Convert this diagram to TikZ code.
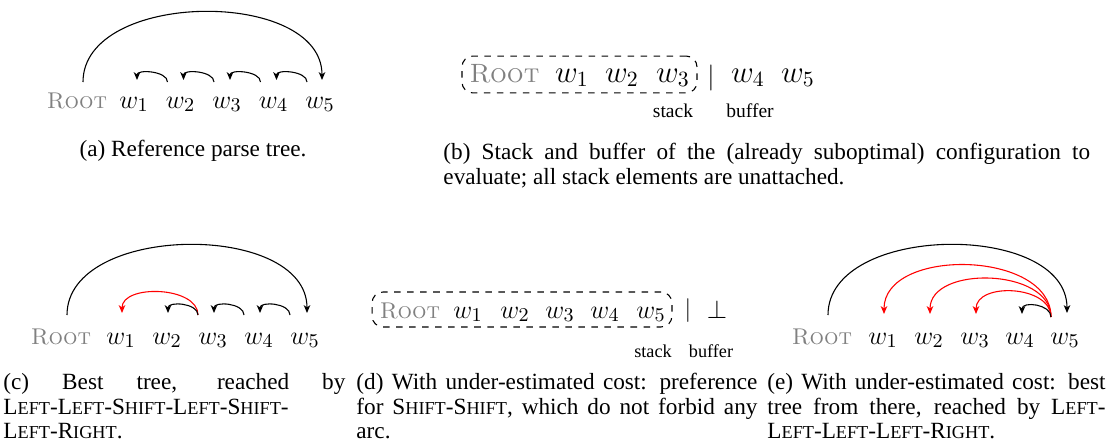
\documentclass[tikz,border=0pt]{standalone}
\usepackage{fontspec}
\newfontfamily\capfont{Liberation Serif}
\usetikzlibrary{arrows.meta,calc}
\newcommand\FSC[2]{#1{\fontsize{8.4}{9}\selectfont #2}}
\hbadness=10000 \hfuzz=20pt
\tikzset{
  word/.style={inner sep=0pt, anchor=base, font=\fontsize{12.5}{14}\selectfont},
  bigword/.style={inner sep=0pt, anchor=base, font=\fontsize{14}{16}\selectfont},
  rootw/.style={inner sep=0pt, anchor=base, text=gray, font=\fontsize{10.5}{12}\selectfont},
  bigroot/.style={inner sep=0pt, anchor=base, text=gray, font=\fontsize{12.2}{14}\selectfont},
  arc/.style={line width=0.5pt, -{Stealth[length=3.6pt,width=3pt,inset=1pt]}},
  redarc/.style={arc, red},
  stackbox/.style={draw, dashed, rounded corners=5pt, line width=0.5pt, inner sep=0pt},
  lbl/.style={inner sep=0pt, anchor=base, font=\capfont\fontsize{9}{10}\selectfont},
  slbl/.style={inner sep=0pt, anchor=base, font=\capfont\fontsize{8.4}{10}\selectfont},
  captext/.style={inner sep=0pt, anchor=north west, align=justify, font=\capfont\fontsize{10.7}{11.3}\selectfont},
}
\begin{document}
\begin{tikzpicture}[x=0.4608pt, y=-0.4608pt]
\useasboundingbox (0,0) rectangle (1107,445);

% ---------- (a)
\node[rootw] (a0) at (77,108) {\textsc{Root}};
\node[word] (a1) at (134,108) {$w_1$};
\node[word] (a2) at (180.5,108) {$w_2$};
\node[word] (a3) at (227,108) {$w_3$};
\node[word] (a4) at (273.5,108) {$w_4$};
\node[word] (a5) at (320,108) {$w_5$};
\draw[arc] ($(a0.base)+(6,-26)$) .. controls +(0,-92) and +(0,-92) .. ($(a5.base)+(2,-28)$);
\draw[arc] ($(a2.base)+(-13,-26)$) .. controls +(0,-11) and +(0,-11) .. ($(a1.base)+(3,-28)$);
\draw[arc] ($(a3.base)+(-13,-26)$) .. controls +(0,-11) and +(0,-11) .. ($(a2.base)+(3,-28)$);
\draw[arc] ($(a4.base)+(-13,-26)$) .. controls +(0,-11) and +(0,-11) .. ($(a3.base)+(3,-28)$);
\draw[arc] ($(a5.base)+(-13,-26)$) .. controls +(0,-11) and +(0,-11) .. ($(a4.base)+(3,-28)$);
\node[captext, anchor=base, align=center] (capa) at (193,156) {(a) Reference parse tree.};

% ---------- (b)
\node[stackbox, minimum width=108.3pt, minimum height=17pt] (sb) at (579.5,74.5) {};
\node[bigroot] (b0) at (504.5,82) {\textsc{Root}};
\node[bigword] (b1) at (572,82) {$w_1$};
\node[bigword] (b2) at (622,82) {$w_2$};
\node[bigword] (b3) at (673,82) {$w_3$};
\node[bigword, font=\fontsize{12}{14}\selectfont] (bbar) at (711,84) {$|$};
\node[bigword] (b4) at (748,82) {$w_4$};
\node[bigword] (b5) at (798,82) {$w_5$};
\node[lbl] (bst) at (673,117) {stack};
\node[lbl] (bbu) at (750,117) {buffer};
\node[captext, text width=298pt] (capb) at (443,142) {\strut(b) Stack and buffer of the (already suboptimal) configuration to\linebreak evaluate; all stack elements are unattached.};

% ---------- (c)
\node[rootw] (c0) at (61,344) {\textsc{Root}};
\node[word] (c1) at (121,344) {$w_1$};
\node[word] (c2) at (167,344) {$w_2$};
\node[word] (c3) at (213,344) {$w_3$};
\node[word] (c4) at (259,344) {$w_4$};
\node[word] (c5) at (305,344) {$w_5$};
\draw[arc] ($(c0.base)+(6,-29)$) .. controls +(0,-92) and +(0,-92) .. ($(c5.base)+(2,-31)$);
\draw[redarc] ($(c3.base)+(-15,-29)$) .. controls +(0,-29) and +(0,-29) .. ($(c1.base)+(1,-31)$);
\draw[arc] ($(c3.base)+(-15,-29)$) .. controls +(0,-12) and +(0,-12) .. ($(c2.base)+(1,-31)$);
\draw[arc] ($(c4.base)+(-15,-29)$) .. controls +(0,-12) and +(0,-12) .. ($(c3.base)+(1,-31)$);
\draw[arc] ($(c5.base)+(-15,-29)$) .. controls +(0,-12) and +(0,-12) .. ($(c4.base)+(1,-31)$);
\node[captext, text width=157.6pt] (capc) at (3,372) {\strut(c) Best tree, reached by\linebreak \FSC{L}{EFT}-\FSC{L}{EFT}-\FSC{S}{HIFT}-\FSC{L}{EFT}-\FSC{S}{HIFT}-\linebreak \FSC{L}{EFT}-\FSC{R}{IGHT}.};

% ---------- (d)
\node[stackbox, minimum width=138.2pt, minimum height=16.1pt] (sd) at (522,309.5) {};
\node[rootw] (d0) at (410,318) {\textsc{Root}};
\node[word] (d1) at (468,318) {$w_1$};
\node[word] (d2) at (515,318) {$w_2$};
\node[word] (d3) at (560,318) {$w_3$};
\node[word] (d4) at (605,318) {$w_4$};
\node[word] (d5) at (651,318) {$w_5$};
\node[word, font=\fontsize{11}{13}\selectfont] (dbar) at (688,316) {$|$};
\node[word] (dperp) at (717,318) {$\perp$};
\node[slbl] (dst) at (653,357) {stack};
\node[slbl] (dbu) at (711,357) {buffer};
\node[captext, text width=184.8pt] (capd) at (356,372) {\strut(d) With under-estimated cost: preference\linebreak for \FSC{S}{HIFT}-\FSC{S}{HIFT}, which do not forbid any\linebreak arc.};

% ---------- (e)
\node[rootw] (e0) at (822,344) {\textsc{Root}};
\node[word] (e1) at (883,344) {$w_1$};
\node[word] (e2) at (929,344) {$w_2$};
\node[word] (e3) at (975,344) {$w_3$};
\node[word] (e4) at (1020,344) {$w_4$};
\node[word] (e5) at (1065,344) {$w_5$};
\draw[arc] ($(e0.base)+(6,-29)$) .. controls +(0,-92) and +(0,-92) .. ($(e5.base)+(2,-31)$);
\draw[redarc] ($(e5.base)+(-14,-27)$) .. controls +(0,-67) and +(0,-67) .. ($(e1.base)+(1,-30)$);
\draw[redarc] ($(e5.base)+(-14,-27)$) .. controls +(0,-49) and +(0,-49) .. ($(e2.base)+(1,-30)$);
\draw[redarc] ($(e5.base)+(-14,-27)$) .. controls +(0,-32) and +(0,-32) .. ($(e3.base)+(1,-30)$);
\draw[arc] ($(e5.base)+(-14,-27)$) .. controls +(0,-13) and +(0,-13) .. ($(e4.base)+(2,-30)$);
\node[captext, text width=155.8pt] (cape) at (767,372) {\strut(e) With under-estimated cost: best\linebreak tree from there, reached by \FSC{L}{EFT}-\linebreak \FSC{L}{EFT}-\FSC{L}{EFT}-\FSC{L}{EFT}-\FSC{R}{IGHT}.};
\end{tikzpicture}
\end{document}
